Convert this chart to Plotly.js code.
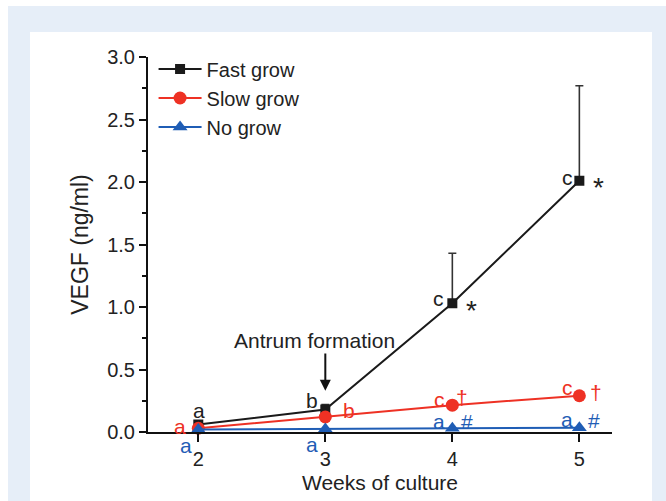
<!DOCTYPE html>
<html>
<head>
<meta charset="utf-8">
<script src="https://cdn.plot.ly/plotly-3.0.1.min.js"></script>
<style>
  html, body { margin: 0; padding: 0; background: #ffffff; }
  #wrap { position: relative; width: 666px; height: 501px; overflow: hidden; }
  #blue { position: absolute; left: 8px; top: 6px; width: 658px; height: 495px; background: #e6eef8; }
  #white { position: absolute; left: 30px; top: 32px; width: 622px; height: 469px; background: #ffffff; }
  #chart { position: absolute; left: 0; top: 0; width: 666px; height: 501px; }
</style>
</head>
<body>
<div id="wrap">
  <div id="blue"></div>
  <div id="white"></div>
  <div id="chart"></div>
</div>
<script>
// ---- data ----
const weeks = [2, 3, 4, 5];
const seriesNames = ["Fast grow", "Slow grow", "No grow"];
const fastGrow = [0.06, 0.18, 1.03, 2.01];
const fastGrowErr = [0.02, 0.04, 0.40, 0.76];
const slowGrow = [0.03, 0.12, 0.215, 0.29];
const noGrow = [0.02, 0.025, 0.03, 0.035];
const yTickVals = [0, 0.5, 1.0, 1.5, 2.0, 2.5, 3.0];
const yTickText = ["0.0", "0.5", "1.0", "1.5", "2.0", "2.5", "3.0"];
const xTickVals = [2, 3, 4, 5];
const xTickText = ["2", "3", "4", "5"];
// significance labels: [text, series index, week index]
const sigLabels = [
  ["a", 0, 0], ["b", 0, 1], ["c", 0, 2], ["*", 0, 2], ["c", 0, 3], ["*", 0, 3],
  ["a", 1, 0], ["b", 1, 1], ["c", 1, 2], ["\u2020", 1, 2], ["c", 1, 3], ["\u2020", 1, 3],
  ["a", 2, 0], ["a", 2, 1], ["a", 2, 2], ["#", 2, 2], ["a", 2, 3], ["#", 2, 3]
];

// ---- styling / positioning (not data) ----
const colors = ["#1a1a1a", "#ee3124", "#1f5db5"];
const allSeries = [fastGrow, slowGrow, noGrow];
// pixel offsets for each label, same order as sigLabels
const labelOffsets = [
  [1, 14], [-13, 9], [-14, 5], [19, -7], [-12, 3], [19, -7],
  [-18, 2], [24, 7], [-13, 6], [10, 8], [-12, 8], [17, 3],
  [-12, -16], [-13, -16], [-13, 7], [15, 7], [-12, 8.5], [15, 7]
];
const FONT = "Liberation Sans, Arial, Helvetica, sans-serif";
const TXT = "#222222";

const traces = [
  {
    x: weeks, y: fastGrow, name: seriesNames[0], type: "scatter", mode: "lines+markers",
    line: { color: colors[0], width: 2 },
    marker: { symbol: "square", size: 10, color: colors[0] },
    error_y: { type: "data", symmetric: false, array: fastGrowErr, arrayminus: [0, 0, 0, 0],
               color: "#333333", thickness: 1.6, width: 4 },
    cliponaxis: false
  },
  {
    x: weeks, y: slowGrow, name: seriesNames[1], type: "scatter", mode: "lines+markers",
    line: { color: colors[1], width: 2 },
    marker: { symbol: "circle", size: 13, color: colors[1] },
    cliponaxis: false
  },
  {
    x: weeks, y: noGrow, name: seriesNames[2], type: "scatter", mode: "lines+markers",
    line: { color: colors[2], width: 2 },
    marker: { symbol: "triangle-up", size: 13, color: colors[2] },
    cliponaxis: false
  }
];

const annotations = sigLabels.map((lab, i) => {
  const [txt, s, w] = lab;
  const big = txt === "*";
  return {
    x: weeks[w], y: allSeries[s][w], xref: "x", yref: "y",
    text: txt, showarrow: false,
    xshift: labelOffsets[i][0], yshift: labelOffsets[i][1],
    font: { family: FONT, size: big ? 28 : 21, color: s === 0 ? TXT : colors[s] }
  };
});

annotations.push({
  x: 3, y: 0.736, xref: "x", yref: "y", xshift: -11,
  text: "Antrum formation", showarrow: false,
  font: { family: FONT, size: 21, color: TXT }
});
annotations.push({
  x: 3, y: 0.33, xref: "x", yref: "y",
  ax: 3, ay: 0.64, axref: "x", ayref: "y",
  text: "", showarrow: true, arrowhead: 2, arrowsize: 1.1, arrowwidth: 2, arrowcolor: "#111111"
});

const layout = {
  width: 666, height: 501,
  margin: { l: 148, r: 54, t: 57, b: 69 },
  paper_bgcolor: "rgba(0,0,0,0)",
  plot_bgcolor: "rgba(0,0,0,0)",
  font: { family: FONT, size: 20, color: TXT },
  showlegend: true,
  legend: {
    x: 0.012, y: 1.02, xanchor: "left", yanchor: "top",
    bgcolor: "rgba(0,0,0,0)", borderwidth: 0,
    font: { family: FONT, size: 20, color: TXT },
    tracegroupgap: 0, itemwidth: 43
  },
  xaxis: {
    range: [1.604, 5.257], showgrid: false, zeroline: false,
    showline: true, linecolor: "#111111", linewidth: 2,
    ticks: "outside", ticklen: 8, tickwidth: 2, tickcolor: "#111111",
    tickvals: xTickVals, ticktext: xTickText,
    tickfont: { family: FONT, size: 20, color: TXT },
    title: { text: "Weeks of culture", font: { family: FONT, size: 21, color: TXT }, standoff: 6 }
  },
  yaxis: {
    range: [0, 3], showgrid: false, zeroline: false,
    showline: true, linecolor: "#111111", linewidth: 2,
    ticks: "outside", ticklen: 7, tickwidth: 2, tickcolor: "#111111",
    tickvals: yTickVals, ticktext: yTickText,
    tickfont: { family: FONT, size: 20, color: TXT },
    minor: { ticks: "outside", ticklen: 4, tickwidth: 2, tickcolor: "#111111", dtick: 0.25, showgrid: false },
    title: { text: "VEGF (ng/ml)", font: { family: FONT, size: 23, color: TXT }, standoff: 12 }
  },
  annotations: annotations
};

Plotly.newPlot("chart", traces, layout, { staticPlot: true, displayModeBar: false });
</script>
</body>
</html>
